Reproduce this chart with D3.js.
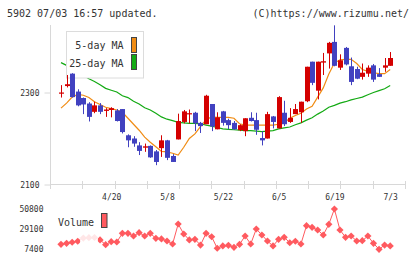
<!DOCTYPE html>
<html><head><meta charset="utf-8">
<script src="https://cdn.jsdelivr.net/npm/d3@7"></script>
<style>
html,body{margin:0;padding:0;background:#fff;}
svg{display:block;}
text{font-family:"DejaVu Sans Mono",monospace;fill:#333;}
</style></head>
<body>
<script>
const dates = ["4/7","4/8","4/9","4/10","4/13","4/14","4/15","4/16","4/17","4/20",
"4/21","4/22","4/23","4/24","4/27","4/28","4/30","5/1","5/7","5/8",
"5/11","5/12","5/13","5/14","5/15","5/18","5/19","5/20","5/21","5/22",
"5/25","5/26","5/27","5/28","5/29","6/1","6/2","6/3","6/4","6/5",
"6/8","6/9","6/10","6/11","6/12","6/15","6/16","6/17","6/18","6/19",
"6/22","6/23","6/24","6/25","6/26","6/29","6/30","7/1","7/2","7/3"];
const labelDates = ["4/20","5/8","5/22","6/5","6/19","7/3"];
const opens = [2299,2314,2341,2302,2288,2276,2258,2272,2260,2262,
2261,2264,2207,2200,2185,2180,2184,2172,2179,2196,
2162,2198,2236,2253,2256,2234,2231,2275,2220,2259,
2240,2234,2218,2216,2245,2240,2201,2200,2248,2222,
2256,2236,2253,2257,2281,2367,2304,2365,2385,2410,
2354,2397,2357,2351,2334,2341,2359,2340,2354,2358];
const highs = [2316,2338,2342,2307,2289,2279,2280,2277,2266,2268,
2264,2264,2209,2205,2192,2189,2185,2175,2207,2197,
2166,2254,2262,2263,2258,2236,2295,2275,2257,2260,
2243,2238,2231,2244,2257,2256,2216,2258,2249,2292,
2282,2266,2275,2280,2356,2367,2367,2386,2410,2446,
2383,2399,2376,2356,2363,2359,2362,2353,2375,2388];
const lows = [2289,2311,2289,2270,2253,2237,2255,2253,2247,2246,
2237,2211,2181,2182,2164,2171,2158,2142,2160,2153,
2149,2198,2233,2233,2216,2212,2231,2216,2220,2228,
2220,2219,2216,2205,2237,2208,2185,2200,2222,2222,
2227,2234,2253,2234,2279,2316,2285,2338,2352,2357,
2349,2359,2316,2329,2328,2334,2323,2334,2345,2358];
const closes = [2300,2318,2290,2272,2274,2247,2272,2258,2263,2266,
2238,2214,2196,2189,2173,2183,2159,2149,2196,2158,
2149,2238,2259,2255,2233,2227,2293,2226,2246,2234,
2229,2220,2229,2244,2238,2219,2196,2253,2236,2290,
2231,2245,2264,2280,2356,2321,2367,2368,2408,2358,
2370,2361,2323,2330,2343,2354,2328,2334,2359,2375];
const ma5 = [2266,2277,2290,2296,2294,2289,2280,2274,2268,2265,
2262,2257,2244,2231,2218,2203,2192,2182,2172,2171,
2168,2164,2181,2200,2210,2226,2241,2247,2246,2246,
2246,2244,2232,2229,2229,2229,2229,2229,2229,2231,
2234,2244,2250,2255,2264,2270,2290,2310,2340,2364,
2371,2372,2372,2363,2350,2346,2343,2341,2341,2350];
const ma25 = [2365,2359,2352,2344,2337,2330,2324,2317,2309,2305,
2301,2293,2289,2281,2275,2267,2262,2255,2247,2242,
2239,2235,2234,2233,2233,2232,2229,2227,2224,2221,
2220,2219,2218,2217,2217,2216,2215,2216,2217,2221,
2223,2225,2230,2234,2240,2245,2253,2260,2268,2272,
2277,2280,2284,2287,2290,2295,2300,2304,2308,2315];
const volumes = [12500,13600,14700,15800,19300,19700,19900,17200,12100,15300,
15000,24400,24400,21500,25100,21500,24400,19000,18300,16100,
12800,34500,23700,17200,17900,11700,24400,20700,8200,10700,
11400,9200,12500,21500,12800,29100,22600,16100,10700,17900,
20100,14200,15800,12800,32700,30900,28000,22600,34200,50800,
28000,20100,21500,16100,16400,21500,13600,7100,11700,10700];
const priceTicks = [2100, 2300];
const volumeTicks = [7400, 29100, 50800];
const headerLeft = "5902 07/03 16:57 updated.";
const headerRight = "(C)https://www.rizumu.net/";

const W = 420, H = 259;
const RED = "#d40000", BLUE = "#4141c0", ORANGE = "#f08c14", GREEN = "#14aa14", VOL = "#ff5a5f", GRID = "#d8d8d8";

const svg = d3.select("body").append("svg").attr("width", W).attr("height", H);

const idx = d3.range(dates.length);
const x = d3.scaleLinear().domain([0, dates.length - 1]).range([61, 390.2]);
const y = d3.scaleLinear().domain([2100, 2300]).range([184.5, 92.5]);
const yv = d3.scaleLinear().domain([7400, 50800]).range([249, 209]);
const frame = d3.scaleLinear().domain([0, 11]).range([50.5, 405.5]);

// header
svg.append("text").attr("x", 7).attr("y", 16.5).attr("font-size", 10).text(headerLeft);
svg.append("text").attr("x", 409).attr("y", 16.5).attr("font-size", 10).attr("text-anchor", "end").text(headerRight);

// frame: y axis line, x axis line, ticks
svg.append("line").attr("x1", 50.5).attr("x2", 50.5).attr("y1", 25).attr("y2", 184.5).attr("stroke", GRID);
svg.append("line").attr("x1", 50).attr("x2", 406).attr("y1", 184.5).attr("y2", 184.5).attr("stroke", GRID);
svg.append("g").selectAll("line").data(d3.range(12)).join("line")
  .attr("x1", d => Math.round(frame(d) - 0.5) + 0.5).attr("x2", d => Math.round(frame(d) - 0.5) + 0.5)
  .attr("y1", 181).attr("y2", 189).attr("stroke", GRID);

// y axis labels
const yAxis = d3.axisLeft(y).tickValues(priceTicks).tickSize(6).tickPadding(5).tickFormat(d3.format("d"));
const gy = svg.append("g").attr("transform", "translate(50.5,0)").call(yAxis);
gy.select(".domain").remove();
gy.selectAll(".tick line").attr("stroke", GRID);
gy.selectAll(".tick text").attr("font-size", 8).attr("font-family", "DejaVu Sans Mono").attr("fill", "#333").attr("dy", "0.35em");

// x axis labels
const labelIdx = labelDates.map(d => dates.indexOf(d));
const xAxis = d3.axisBottom(x).tickValues(labelIdx).tickSize(0).tickPadding(0).tickFormat(i => dates[i]);
const gx = svg.append("g").attr("transform", "translate(0,194)").call(xAxis);
gx.select(".domain").remove();
gx.selectAll(".tick text").attr("font-size", 8).attr("font-family", "DejaVu Sans Mono").attr("fill", "#333").attr("dy", "0.71em");

// moving averages
const line = arr => d3.line().x(i => x(i)).y(i => y(arr[i]));
svg.append("path").attr("d", line(ma25)(idx)).attr("fill", "none").attr("stroke", GREEN).attr("stroke-width", 1.2);
svg.append("path").attr("d", line(ma5)(idx)).attr("fill", "none").attr("stroke", ORANGE).attr("stroke-width", 1.2);

// legend
const lg = svg.append("g");
lg.append("rect").attr("x", 66.5).attr("y", 31.5).attr("width", 77).attr("height", 46.5).attr("fill", "#fff").attr("stroke", "#dcdcdc");
lg.append("text").attr("x", 123.5).attr("y", 49).attr("font-size", 10).attr("text-anchor", "end").text("5-day MA");
lg.append("text").attr("x", 123.5).attr("y", 66.5).attr("font-size", 10).attr("text-anchor", "end").text("25-day MA");
lg.append("rect").attr("x", 131.5).attr("y", 37.5).attr("width", 5).attr("height", 15).attr("fill", ORANGE).attr("stroke", "#444");
lg.append("rect").attr("x", 131.5).attr("y", 54.5).attr("width", 5).attr("height", 15).attr("fill", GREEN).attr("stroke", "#444");

// candles
const bw = 5;
const cg = svg.append("g").selectAll("g").data(idx).join("g");
cg.append("line")
  .attr("x1", i => Math.round(x(i)) + 0.5).attr("x2", i => Math.round(x(i)) + 0.5)
  .attr("y1", i => y(highs[i])).attr("y2", i => y(lows[i]))
  .attr("stroke", i => closes[i] >= opens[i] ? RED : BLUE).attr("stroke-width", 1);
cg.append("rect")
  .attr("x", i => Math.round(x(i)) + 0.5 - bw / 2)
  .attr("width", bw)
  .attr("y", i => y(Math.max(opens[i], closes[i])))
  .attr("height", i => Math.max(1.2, Math.abs(y(opens[i]) - y(closes[i]))))
  .attr("fill", i => closes[i] >= opens[i] ? RED : BLUE);

// volume
const vline = d3.line().x(i => x(i)).y(i => yv(volumes[i]));
svg.append("path").attr("d", vline(idx)).attr("fill", "none").attr("stroke", VOL).attr("stroke-width", 1);
svg.append("g").selectAll("path").data(idx).join("path")
  .attr("transform", i => `translate(${x(i)},${yv(volumes[i])})`)
  .attr("d", "M0,-3.6L3.6,0L0,3.6L-3.6,0Z").attr("fill", VOL);
svg.append("rect").attr("x", 80).attr("y", 230).attr("width", 18).attr("height", 15).attr("fill", "#fff").attr("opacity", 0.85);
svg.append("text").attr("x", 58).attr("y", 225.5).attr("font-size", 10).text("Volume");
svg.append("rect").attr("x", 101.5).attr("y", 213.5).attr("width", 5.5).attr("height", 14).attr("fill", VOL).attr("stroke", "#444");

const vAxis = d3.axisLeft(yv).tickValues(volumeTicks).tickSize(0).tickPadding(0).tickFormat(d3.format("d"));
const gv = svg.append("g").attr("transform", "translate(43.5,0)").call(vAxis);
gv.select(".domain").remove();
gv.selectAll(".tick text").attr("font-size", 8).attr("font-family", "DejaVu Sans Mono").attr("fill", "#333").attr("dy", "0.35em");
</script>
</body></html>
